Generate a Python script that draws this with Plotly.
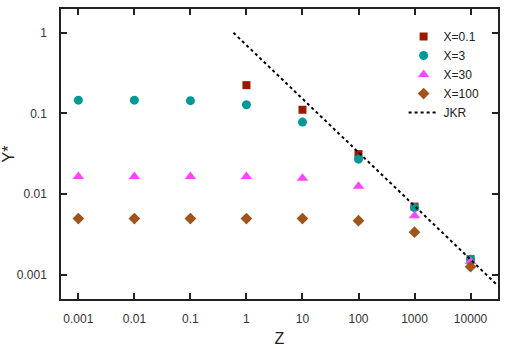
import plotly.graph_objects as go

# dati
z_x01 = [1, 10, 100, 1000, 10000]
y_x01 = [0.224, 0.111, 0.0313, 0.0070, 0.00156]

z_all = [0.001, 0.01, 0.1, 1, 10, 100, 1000, 10000]
y_x3 = [0.146, 0.146, 0.144, 0.128, 0.078, 0.0271, 0.0068, 0.00156]
y_x30 = [0.0165, 0.0165, 0.0165, 0.0165, 0.0157, 0.0125, 0.0054, 0.00146]
y_x100 = [0.00497, 0.00497, 0.00497, 0.00497, 0.00497, 0.00469, 0.00337, 0.00126]

# JKR: Y* ~ Z^(-2/3), estremi
z_jkr = [0.586, 30900]
y_jkr = [1.0, 0.00073]

tick_vals = [0.001, 0.01, 0.1, 1, 10, 100, 1000, 10000]
tick_text = ["0.001", "0.01", "0.1", "1", "10", "100", "1000", "10000"]
ytick_vals = [0.001, 0.01, 0.1, 1]
ytick_text = ["0.001", "0.01", "0.1", "1"]

FONT = "Liberation Sans, Arial, sans-serif"

fig = go.Figure()

fig.add_trace(go.Scatter(
    x=z_x01, y=y_x01, mode="markers", name="X=0.1",
    marker=dict(symbol="square", size=8, color="#991a00"),
))
fig.add_trace(go.Scatter(
    x=z_all, y=y_x3, mode="markers", name="X=3",
    marker=dict(symbol="circle", size=9, color="#009999"),
))
fig.add_trace(go.Scatter(
    x=z_all, y=y_x30, mode="markers", name="X=30",
    marker=dict(symbol="triangle-up", size=10, color="#ff44ff"),
))
fig.add_trace(go.Scatter(
    x=z_all, y=y_x100, mode="markers", name="X=100",
    marker=dict(symbol="diamond", size=9, color="#a0541a"),
))
fig.add_trace(go.Scatter(
    x=z_jkr, y=y_jkr, mode="lines", name="JKR",
    line=dict(color="black", width=2, dash="dot"),
))

axis_common = dict(
    type="log",
    automargin=False,
    showgrid=False,
    zeroline=False,
    showline=True,
    linecolor="#222222",
    linewidth=1.5,
    mirror="ticks",
    ticks="inside",
    ticklen=6,
    tickwidth=1.5,
    tickcolor="#222222",
    tickfont=dict(family=FONT, size=12, color="#333333"),
)

fig.update_layout(
    width=507, height=349,
    margin=dict(l=61, r=9, t=9, b=50),
    paper_bgcolor="white",
    plot_bgcolor="white",
    font=dict(family=FONT, color="#222222"),
    xaxis=dict(
        **axis_common,
        range=[-3.31, 4.49],
        tickvals=tick_vals, ticktext=tick_text,
        ticklabelstandoff=8,
        title=dict(text="Z", font=dict(size=16), standoff=8),
    ),
    yaxis=dict(
        **axis_common,
        range=[-3.30, 0.294],
        tickvals=ytick_vals, ticktext=ytick_text,
        ticklabelstandoff=10,
        title=dict(text="Y*", font=dict(size=16), standoff=6),
    ),
    legend=dict(
        x=0.784, y=0.955, xanchor="left", yanchor="top",
        bgcolor="rgba(0,0,0,0)",
        font=dict(family=FONT, size=12, color="#222222"),
        tracegroupgap=0,
    ),
)

# niente margine del body, così la figura parte da (0, 0); niente modebar
fig.write_html(
    "out.html",
    config={"displayModeBar": False},
    post_script="document.body.style.margin='0';",
)
